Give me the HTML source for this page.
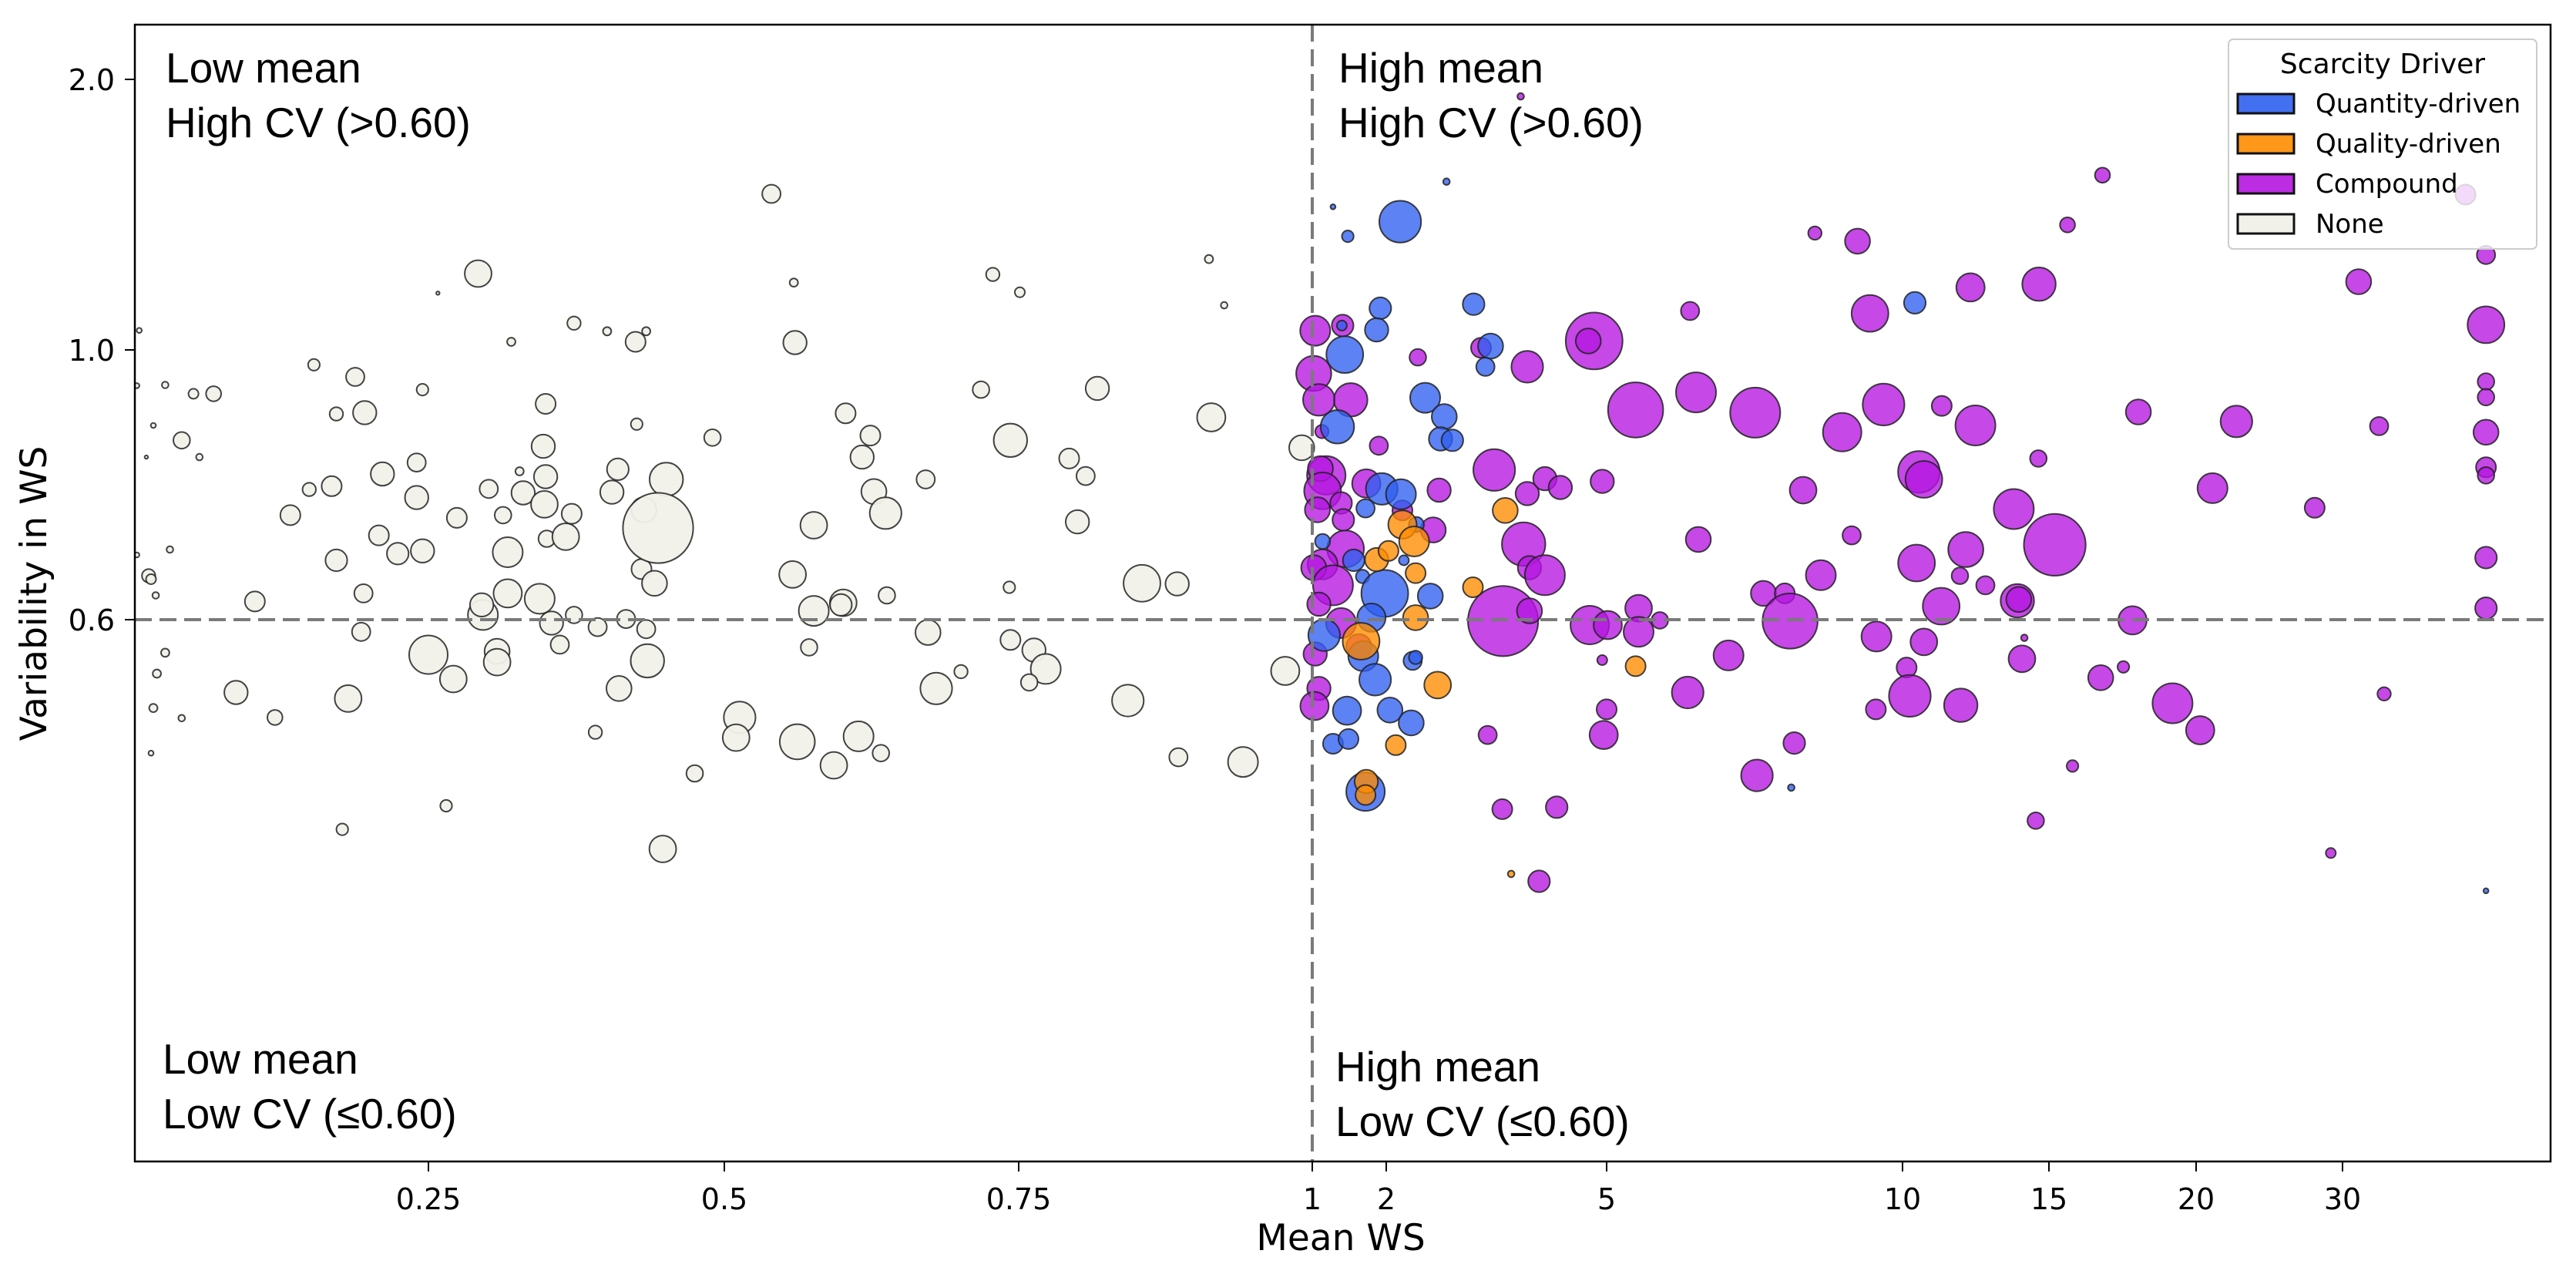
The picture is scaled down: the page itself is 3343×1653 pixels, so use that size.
<!DOCTYPE html>
<html><head><meta charset="utf-8"><style>
html,body{margin:0;padding:0;background:#fff;}
svg{display:block;font-family:"DejaVu Sans","Liberation Sans",sans-serif;}
</style></head><body>
<svg id="chart" width="3343" height="1653" viewBox="0 0 3343 1653" xmlns="http://www.w3.org/2000/svg">
<rect x="0" y="0" width="3343" height="1653" fill="#fff"/>
<g id="points"></g>
<g id="axes"></g>
</svg>
<script>
// ---- data (x = Mean WS, y = Variability in WS, s = bubble size) ----
const noneX=[0.005,0.003,0.027,0.051,0.068,0.017,0.041,0.056,0.011,0.003,0.013,0.015,0.031,0.019,0.103,0.027,0.020,0.017,0.041,0.015,0.087,0.120,0.153,0.188,0.172,0.196,0.133,0.149,0.168,0.172,0.195,0.193,0.182,0.177,0.211,0.208,0.224,0.240,0.240,0.245,0.245,0.274,0.258,0.292,0.320,0.301,0.296,0.295,0.313,0.317,0.317,0.308,0.308,0.250,0.271,0.265,0.327,0.330,0.344,0.349,0.347,0.349,0.348,0.350,0.366,0.371,0.373,0.354,0.361,0.373,0.393,0.401,0.405,0.410,0.391,0.411,0.425,0.434,0.426,0.430,0.441,0.417,0.434,0.435,0.432,0.451,0.444,0.448,0.490,0.475,0.513,0.510,0.540,0.559,0.560,0.558,0.576,0.576,0.572,0.562,0.593,0.603,0.617,0.624,0.627,0.637,0.601,0.599,0.638,0.614,0.633,0.671,0.673,0.680,0.701,0.718,0.728,0.751,0.743,0.742,0.743,0.763,0.773,0.759,0.793,0.807,0.800,0.817,0.855,0.885,0.843,0.886,0.912,0.925,0.914,0.941,0.977,0.991];
const noneY=[1.072,0.947,0.948,0.935,0.935,0.888,0.866,0.841,0.841,0.696,0.665,0.660,0.704,0.636,0.627,0.551,0.520,0.469,0.454,0.402,0.492,0.455,0.978,0.960,0.905,0.907,0.755,0.793,0.798,0.688,0.639,0.582,0.483,0.289,0.816,0.725,0.698,0.833,0.781,0.702,0.941,0.751,1.210,1.282,1.030,0.794,0.607,0.622,0.755,0.700,0.639,0.553,0.537,0.548,0.512,0.324,0.820,0.788,0.631,0.920,0.857,0.812,0.771,0.720,0.723,0.757,0.607,0.595,0.563,1.099,0.589,1.069,0.789,0.823,0.433,0.498,1.030,1.069,0.890,0.675,0.654,0.601,0.586,0.539,0.763,0.808,0.736,0.260,0.870,0.372,0.455,0.425,1.577,1.249,1.027,0.667,0.740,0.613,0.559,0.419,0.384,0.906,0.841,0.873,0.790,0.758,0.625,0.622,0.636,0.427,0.402,0.808,0.581,0.498,0.523,0.941,1.279,1.213,0.866,0.648,0.570,0.555,0.527,0.507,0.839,0.813,0.745,0.943,0.654,0.653,0.480,0.396,1.336,1.165,0.900,0.389,0.524,0.855];
const noneS=[3,3,4,6,9,3,10,4,2,3,8,6,4,4,12,5,5,5,4,3,14,9,7,11,8,14,12,8,12,13,11,11,16,7,14,12,13,11,14,14,7,12,2,16,5,11,18,14,10,18,17,15,16,23,16,7,5,14,18,12,14,14,16,10,16,12,10,14,11,8,11,5,14,13,8,15,12,5,7,12,15,11,11,20,15,20,42,16,10,10,19,16,11,5,14,16,16,18,10,21,16,12,14,12,15,19,16,13,10,18,10,11,15,19,8,10,8,6,20,7,12,14,18,10,12,11,14,14,22,14,19,11,5,4,17,18,17,15];

const qtyX=[1.92,3.19,1.40,1.87,1.44,3.42,3.35,1.34,2.53,2.79,2.74,2.90,1.94,2.20,1.72,2.41,1.14,1.56,2.24,1.68,1.98,2.60,1.16,1.80,1.69,2.36,2.40,1.85,1.47,2.05,2.34,1.28,1.49,1.72,2.19,1.28,1.48,2.82,8.12,39.8,10.42];
const qtyY=[1.154,1.169,1.090,1.074,0.993,1.014,0.975,0.886,0.929,0.901,0.868,0.866,0.794,0.786,0.765,0.741,0.716,0.688,0.688,0.664,0.639,0.635,0.577,0.603,0.546,0.539,0.544,0.511,0.465,0.466,0.447,0.416,0.423,0.345,1.474,1.529,1.420,1.622,0.351,0.198,1.174];
const qtyS=[13,13,6,14,22,15,11,20,18,15,14,13,19,18,11,9,9,13,6,8,28,15,19,17,18,11,8,19,17,15,15,12,12,23,25,3,7,4,4,3,13];

const qualX=[3.62,2.22,2.38,1.87,2.03,2.40,3.18,2.40,1.66,2.70,2.13,1.73,1.72,3.70,5.49];
const qualY=[0.762,0.741,0.716,0.689,0.702,0.669,0.648,0.603,0.568,0.503,0.414,0.360,0.340,0.223,0.531];
const qualS=[15,17,18,14,12,12,12,15,22,16,12,14,12,4,12];

const compX=[1.04,1.41,2.43,3.29,3.92,4.83,4.75,1.02,1.09,1.52,1.13,1.90,1.19,1.11,1.14,1.39,1.07,1.42,1.73,2.72,3.47,3.92,4.16,4.37,4.94,2.22,2.64,1.45,1.14,1.02,1.28,3.87,3.95,4.16,3.59,3.95,1.09,1.39,4.77,5.02,1.63,1.04,4.94,1.09,1.03,3.38,5.0,4.96,3.58,4.32,3.83,4.08,
6.41,8.52,9.24,9.45,12.32,14.66,15.63,16.82,38.4,39.8,31.1,39.8,5.49,6.51,7.51,8.98,9.68,11.34,12.49,18.04,22.75,32.5,39.8,39.8,39.8,39.8,39.8,39.8,39.8,14.64,10.56,10.73,8.32,21.12,28.1,13.80,6.55,9.14,15.2,8.62,10.48,12.16,11.96,12.83,13.92,13.97,11.32,7.65,8.01,8.10,5.54,5.90,5.54,17.84,9.56,10.73,14.16,14.08,10.14,7.06,16.76,17.53,10.25,9.55,11.99,19.2,20.28,6.37,8.17,7.54,15.80,14.55,29.2,32.84];
const compY=[1.071,1.090,0.989,1.008,0.975,1.033,1.033,0.965,0.926,0.926,0.879,0.858,0.814,0.824,0.791,0.773,0.763,0.748,0.802,0.792,0.822,0.787,0.809,0.796,0.805,0.762,0.733,0.705,0.682,0.677,0.651,0.712,0.677,0.666,0.598,0.613,0.623,0.595,0.592,0.592,0.560,0.549,0.540,0.498,0.472,0.429,0.467,0.429,0.319,0.322,1.937,0.212,
1.144,1.432,1.402,1.135,1.231,1.243,1.462,1.646,1.574,1.351,1.252,1.093,0.911,0.937,0.907,0.878,0.919,0.917,0.888,0.908,0.894,0.887,0.953,0.930,0.878,0.826,0.814,0.692,0.617,0.839,0.819,0.808,0.792,0.795,0.766,0.764,0.719,0.725,0.711,0.666,0.684,0.704,0.665,0.651,0.628,0.630,0.620,0.639,0.639,0.598,0.617,0.599,0.582,0.599,0.575,0.567,0.573,0.542,0.529,0.547,0.514,0.530,0.487,0.467,0.473,0.476,0.436,0.492,0.417,0.369,0.383,0.302,0.254,0.490];
const compS=[18,13,10,12,19,34,15,21,19,20,8,11,23,15,22,13,15,13,17,14,25,14,14,14,14,12,15,22,18,15,24,26,14,24,42,15,14,18,23,17,15,14,6,14,17,11,12,17,12,13,4,13,
11,8,15,22,17,20,9,9,12,11,15,22,33,24,30,23,25,12,24,15,19,11,10,10,15,12,10,13,13,10,25,22,16,18,12,24,15,11,37,18,22,21,10,11,20,15,22,15,12,33,16,10,18,17,18,16,4,16,12,18,15,7,25,12,20,24,17,19,13,19,7,10,6,8];

const xTicks=[0.25,0.5,0.75,1,2,5,10,15,20,30];
const yTicks=[0.6,1.0,2.0];
const legendLabels=["Quantity-driven","Quality-driven","Compound","None"];

// ---- scales (piecewise, as in source figure) ----
const xDom=[0,0.25,0.5,0.75,1,2,5,10,15,20,30,44];
const xRng=[173,556,940,1322,1703,1799,2085,2469,2659,2850,3040,3306];
const yDom=[-0.2,0.6,1.0,2.0,2.2];
const yRng=[1504,804,454,103,33];
function pw(v,d,r){
  if(v<=d[0]) return r[0]+(v-d[0])*(r[1]-r[0])/(d[1]-d[0]);
  for(let i=0;i<d.length-1;i++){ if(v<=d[i+1]) return r[i]+(v-d[i])*(r[i+1]-r[i])/(d[i+1]-d[i]); }
  const n=d.length-1; return r[n]+(v-d[n])*(r[n]-r[n-1])/(d[n]-d[n-1]);
}
const X=v=>pw(v,xDom,xRng), Y=v=>pw(v,yDom,yRng), R=s=>s*1.085;

const NS="http://www.w3.org/2000/svg";
function mk(tag,attrs,parent){const e=document.createElementNS(NS,tag);for(const k in attrs)e.setAttribute(k,attrs[k]);parent.appendChild(e);return e;}
const svg=document.getElementById('chart');
const pts=document.getElementById('points');
const axes=document.getElementById('axes');
const L=175,T=32,Rt=3310,B=1507;

const defs=mk('defs',{},svg);
const cp=mk('clipPath',{id:'clip'},defs);
mk('rect',{x:L,y:T,width:Rt-L,height:B-T},cp);
pts.setAttribute('clip-path','url(#clip)');

function drawSeries(xs,ys,ss,fill,op,name){
  for(let i=0;i<xs.length;i++){
    const c=mk('circle',{cx:X(xs[i]).toFixed(1),cy:Y(ys[i]).toFixed(1),r:R(ss[i]).toFixed(1),fill:fill,'fill-opacity':op,stroke:'#222','stroke-width':2,'stroke-opacity':0.85},pts);
    
    
  }
}
drawSeries(noneX,noneY,noneS,'#f1f1ea',0.95,'bubble-none');
drawSeries(compX,compY,compS,'#b515e0',0.78,'bubble-compound');
drawSeries(qtyX,qtyY,qtyS,'#2f5ff0',0.78,'bubble-quantity');
drawSeries(qualX,qualY,qualS,'#ff8c00',0.78,'bubble-quality');

const hl=mk('line',{x1:L,x2:Rt,y1:Y(0.6),y2:Y(0.6),stroke:'#7a7a7a','stroke-width':4,'stroke-dasharray':'22,10'},axes);


const vl=mk('line',{x1:X(1),x2:X(1),y1:T,y2:B,stroke:'#7a7a7a','stroke-width':4,'stroke-dasharray':'22,10'},axes);



const fr=mk('rect',{x:L,y:T,width:Rt-L,height:B-T,fill:'none',stroke:'#000','stroke-width':2.5},axes);



xTicks.forEach(t=>{
  const x=X(t);
  mk('line',{x1:x,x2:x,y1:B,y2:B+13,stroke:'#000','stroke-width':2},axes);
  const tx=mk('text',{x:x,y:B+62,'text-anchor':'middle','font-size':38,fill:'#000'},axes);
  tx.textContent=String(t);
  
  
});
yTicks.forEach(t=>{
  const y=Y(t);
  mk('line',{x1:L-13,x2:L,y1:y,y2:y,stroke:'#000','stroke-width':2},axes);
  const tx=mk('text',{x:L-26,y:y+14,'text-anchor':'end','font-size':38,fill:'#000'},axes);
  tx.textContent=t.toFixed(1);
  
  
});

const lg=mk('g',{},axes);


mk('rect',{x:2892,y:51,width:400,height:272,rx:6,fill:'#fff','fill-opacity':0.8,stroke:'#ccc','stroke-width':2},lg);
const lt=mk('text',{x:3092,y:95,'text-anchor':'middle','font-size':36,fill:'#000'},lg);
lt.textContent='Scarcity Driver';


const lcol=['#2f5ff0','#ff8c00','#b515e0','#f1f1ea'];
legendLabels.forEach((lab,i)=>{
  const y=134+i*52;
  const r=mk('rect',{x:2904,y:y-12,width:73,height:25,fill:lcol[i],'fill-opacity':i<3?0.9:1,stroke:'#111','stroke-width':3},lg);
  
  
  const t=mk('text',{x:3005,y:y+12,'font-size':34,fill:'#000'},lg);
  t.textContent=lab;
  
  
});
</script>
<svg style="position:absolute;left:0;top:0" width="3343" height="1653" xmlns="http://www.w3.org/2000/svg">
<g font-family="Liberation Sans, DejaVu Sans, sans-serif" fill="#000">
<text x="215" y="107" font-size="55">Low mean</text>
<text x="215" y="178" font-size="55">High CV (&gt;0.60)</text>
<text x="211" y="1393" font-size="55">Low mean</text>
<text x="211" y="1464" font-size="55">Low CV (≤0.60)</text>
<text x="1737" y="107" font-size="55">High mean</text>
<text x="1737" y="178" font-size="55">High CV (&gt;0.60)</text>
<text x="1733" y="1403" font-size="55">High mean</text>
<text x="1733" y="1474" font-size="55">Low CV (≤0.60)</text>
</g>
<g font-family="DejaVu Sans, Liberation Sans, sans-serif" fill="#000">
<text x="1740" y="1622" font-size="47" text-anchor="middle">Mean WS</text>
<text x="0" y="0" font-size="47" text-anchor="middle" transform="translate(60,770) rotate(-90)">Variability in WS</text>
</g>
</svg>
</body></html>
